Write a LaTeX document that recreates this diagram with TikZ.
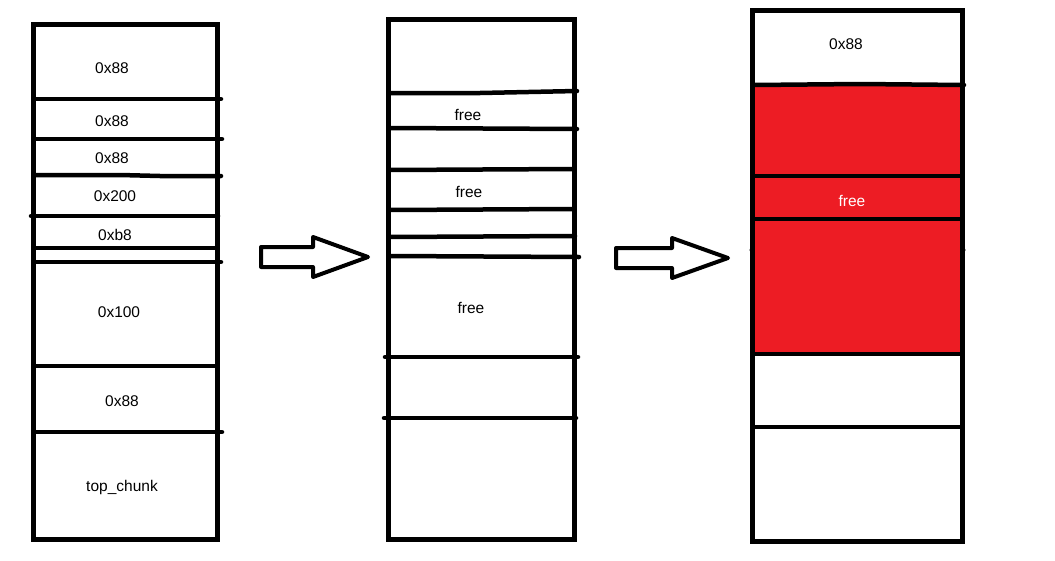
\documentclass[tikz,border=0pt]{standalone}
\usepackage{fontspec}
\setmainfont{Liberation Sans}
\definecolor{paintred}{HTML}{ED1C24}
\begin{document}
\begin{tikzpicture}[x=1pt,y=-1pt,
  frame/.style={draw=black,line width=5pt},
  sep/.style={draw=black,line width=4.5pt,line cap=round},
  lbl/.style={font=\fontsize{15.5}{18}\selectfont,inner sep=0pt,text=black},
  bigarrow/.style={draw=black,line width=4pt,fill=white,line join=round}]
\useasboundingbox (0,0) rectangle (1055,560);
\fill[white] (0,0) rectangle (1055,560);

% ---- box 1
\draw[frame] (33,24) rectangle (217,539);
\draw[sep] (35,99) -- (221,99);
\draw[sep] (35,139) -- (222,139);
\draw[sep] (35,175) -- (120,175) -- (160,176) -- (221,176);
\draw[sep] (31,216) -- (218,216);
\draw[sep] (35,248) -- (216,248);
\draw[sep] (35,262) -- (221,262);
\draw[sep] (35,366) -- (216,366);
\draw[sep] (35,432) -- (222,432);
\node[lbl] (a1) at (112,68) {0x88};
\node[lbl] (a2) at (112,121) {0x88};
\node[lbl] (a3) at (112,158) {0x88};
\node[lbl] (a4) at (115,196) {0x200};
\node[lbl] (a5) at (115,235) {0xb8};
\node[lbl] (a6) at (119,312) {0x100};
\node[lbl] (a7) at (122,401) {0x88};
\node[lbl] (a8) at (122,487) {top\_chunk};

% ---- arrow 1
\draw[bigarrow] (261,247) -- (313,247) -- (313,237) -- (368,257) -- (313,277) -- (313,267) -- (261,267) -- cycle;

% ---- box 2
\draw[frame] (388,19) rectangle (574,539);
\draw[sep] (390,93) -- (480,93) -- (577,91);
\draw[sep] (390,128) -- (577,129);
\draw[sep] (390,170) -- (574,169);
\draw[sep] (390,210) -- (574,209);
\draw[sep] (390,237) -- (575,236);
\draw[sep] (390,256) -- (579,257);
\draw[sep] (385,357) -- (578,357);
\draw[sep] (384,418) -- (576,418);
\node[lbl] (b1) at (468,115) {free};
\node[lbl] (b2) at (469,192) {free};
\node[lbl] (b3) at (471,308) {free};

% ---- arrow 2
\draw[bigarrow] (616,248) -- (672,248) -- (672,238) -- (728,258) -- (672,278) -- (672,268) -- (616,268) -- cycle;

% ---- box 3
\fill[paintred] (752,85) rectangle (962,354);
\draw[frame] (752,10) rectangle (962,541);
\draw[sep] (754,85) -- (860,84) -- (964,85);
\draw[sep] (754,176) -- (960,176);
\draw[sep] (754,219) -- (960,219);
\draw[sep] (754,354) -- (960,354);
\draw[sep] (754,427) -- (960,427);
\fill[black] (752,250) circle (2.5pt);
\fill[black] (963,250) circle (2.5pt);
\node[lbl] (c1) at (846,44) {0x88};
\node[lbl,text=white] (c2) at (852,201) {free};
\end{tikzpicture}
\end{document}
